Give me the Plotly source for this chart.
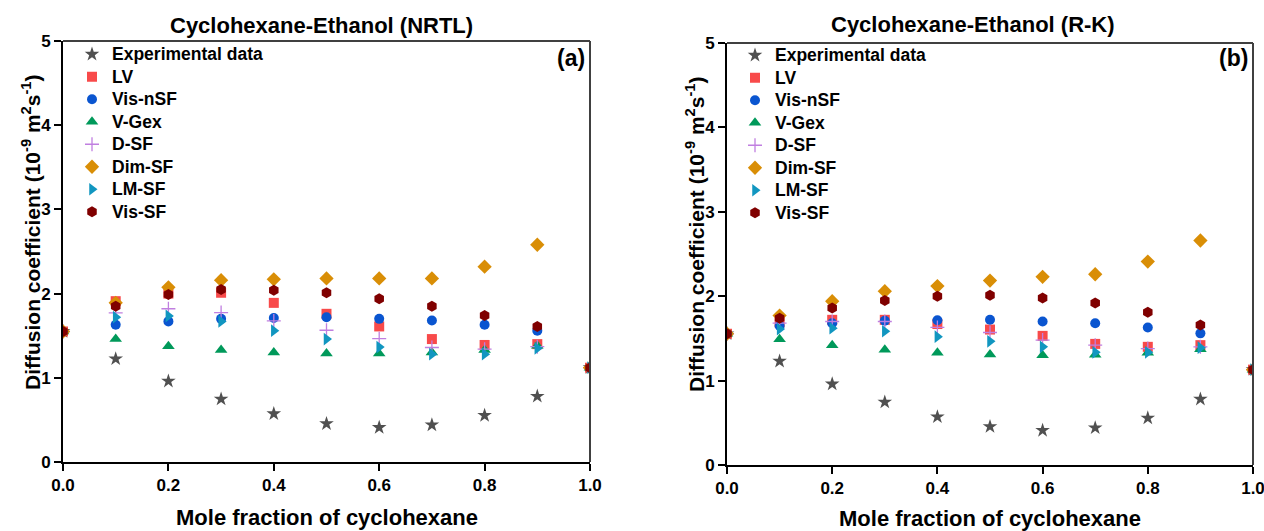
import plotly.graph_objects as go

x = [0.0, 0.1, 0.2, 0.3, 0.4, 0.5, 0.6, 0.7, 0.8, 0.9, 1.0]
series_names = ["Experimental data", "LV", "Vis-nSF", "V-Gex", "D-SF", "Dim-SF", "LM-SF", "Vis-SF"]

# Panel (a): NRTL
exp_a    = [1.55, 1.225, 0.96, 0.747, 0.573, 0.455, 0.41, 0.44, 0.553, 0.78, 1.12]
lv_a     = [1.55, 1.91, 2.00, 2.01, 1.89, 1.76, 1.61, 1.46, 1.39, 1.40, 1.12]
visnsf_a = [1.55, 1.63, 1.67, 1.70, 1.71, 1.72, 1.70, 1.68, 1.63, 1.56, 1.12]
vgex_a   = [1.55, 1.46, 1.375, 1.33, 1.30, 1.29, 1.29, 1.30, 1.33, 1.38, 1.12]
dsf_a    = [1.55, 1.77, 1.82, 1.775, 1.675, 1.565, 1.465, 1.36, 1.34, 1.37, 1.12]
dimsf_a  = [1.55, 1.89, 2.075, 2.16, 2.17, 2.18, 2.18, 2.18, 2.32, 2.58, 1.12]
lmsf_a   = [1.55, 1.72, 1.735, 1.67, 1.56, 1.46, 1.365, 1.28, 1.28, 1.35, 1.12]
vissf_a  = [1.55, 1.85, 1.99, 2.05, 2.04, 2.01, 1.94, 1.85, 1.74, 1.61, 1.12]

# Panel (b): R-K
exp_b    = [1.555, 1.23, 0.96, 0.745, 0.57, 0.455, 0.41, 0.44, 0.556, 0.78, 1.13]
lv_b     = [1.555, 1.69, 1.72, 1.72, 1.67, 1.605, 1.53, 1.435, 1.40, 1.42, 1.13]
visnsf_b = [1.555, 1.65, 1.68, 1.71, 1.715, 1.72, 1.70, 1.68, 1.63, 1.56, 1.13]
vgex_b   = [1.555, 1.49, 1.42, 1.365, 1.33, 1.31, 1.30, 1.305, 1.33, 1.37, 1.13]
dsf_b    = [1.555, 1.68, 1.70, 1.70, 1.63, 1.57, 1.48, 1.42, 1.38, 1.40, 1.13]
dimsf_b  = [1.555, 1.77, 1.94, 2.06, 2.12, 2.185, 2.23, 2.26, 2.41, 2.66, 1.13]
lmsf_b   = [1.555, 1.61, 1.62, 1.585, 1.52, 1.465, 1.40, 1.335, 1.335, 1.39, 1.13]
vissf_b  = [1.555, 1.74, 1.86, 1.95, 2.00, 2.01, 1.98, 1.92, 1.81, 1.66, 1.13]

x_ticks = [0.0, 0.2, 0.4, 0.6, 0.8, 1.0]
y_ticks = [0, 1, 2, 3, 4, 5]

titles = ["Cyclohexane-Ethanol (NRTL)", "Cyclohexane-Ethanol (R-K)"]
panel_labels = ["(a)", "(b)"]
ytitle = "Diffusion coefficient (10<sup>-9</sup> m<sup>2</sup>s<sup>-1</sup>)"
xtitle = "Mole fraction of cyclohexane"

symbols = ["star", "square", "circle", "triangle-up", "cross-thin", "diamond", "triangle-right", "hexagon"]
colors = ["#505050", "#F84A4A", "#0A55D0", "#00995A", "#C07FE0", "#D98E06", "#1196C0", "#800000"]
sizes = [11, 10, 10, 11, 10, 11, 11, 11]

data_a = [exp_a, lv_a, visnsf_a, vgex_a, dsf_a, dimsf_a, lmsf_a, vissf_a]
data_b = [exp_b, lv_b, visnsf_b, vgex_b, dsf_b, dimsf_b, lmsf_b, vissf_b]

W, H = 1264, 531
FONT = "Liberation Sans, Arial, sans-serif"

# pixel layout
px_a = (63, 590); py_a = (41, 462)
px_b = (727, 1253); py_b = (43, 465)

def xd(p):
    return [p[0] / W, p[1] / W]

def yd(p):
    return [(H - p[1]) / H, (H - p[0]) / H]

fig = go.Figure()
for dset, xa, ya, lg in [(data_a, "x", "y", "legend"), (data_b, "x2", "y2", "legend2")]:
    for i, name in enumerate(series_names):
        mk = dict(symbol=symbols[i], color=colors[i], size=sizes[i])
        if symbols[i] == "cross-thin":
            mk["line"] = dict(color=colors[i], width=1.3)
        else:
            mk["line"] = dict(width=0)
        fig.add_trace(go.Scatter(
            x=x, y=dset[i], mode="markers",
            name='<span style="font-size:17.5px">' + name + '</span>',
            marker=mk, xaxis=xa, yaxis=ya, legend=lg))

tickfont = dict(family=FONT, size=17, color="black", weight="bold")
axis_common = dict(showline=True, linecolor="black", linewidth=2, mirror=False,
                   ticks="outside", ticklen=7, tickwidth=2, tickcolor="black",
                   showgrid=False, zeroline=False, automargin=False, tickfont=tickfont,
                   ticklabeloverflow="allow")

legend_font = dict(family=FONT, size=15, color="black", weight="bold")

fig.update_layout(
    width=W, height=H,
    margin=dict(l=0, r=0, t=0, b=0),
    paper_bgcolor="white", plot_bgcolor="white",
    showlegend=True,
    xaxis=dict(domain=xd(px_a), range=[0, 1], tickvals=x_ticks, tickformat=".1f", anchor="y", **axis_common),
    yaxis=dict(domain=yd(py_a), range=[0, 5], tickvals=y_ticks, anchor="x", **axis_common),
    xaxis2=dict(domain=xd(px_b), range=[0, 1], tickvals=x_ticks, tickformat=".1f", anchor="y2", **axis_common),
    yaxis2=dict(domain=yd(py_b), range=[0, 5], tickvals=y_ticks, anchor="x2", **axis_common),
    legend=dict(x=72 / W, y=1 - 38 / H, xanchor="left", yanchor="top", bgcolor="rgba(0,0,0,0)",
                font=legend_font, itemwidth=30),
    legend2=dict(x=735 / W, y=1 - 39 / H, xanchor="left", yanchor="top", bgcolor="rgba(0,0,0,0)",
                 font=legend_font, itemwidth=30),
)

# top/right frame lines (grey) for each panel
for xr, yr in [("x domain", "y domain"), ("x2 domain", "y2 domain")]:
    fig.add_shape(type="line", xref=xr, yref=yr, x0=0, x1=1, y0=1, y1=1,
                  line=dict(color="#404040", width=2))
    fig.add_shape(type="line", xref=xr, yref=yr, x0=1, x1=1, y0=0, y1=1,
                  line=dict(color="#404040", width=2))

title_cx = [321, 973]
title_cy = [25, 24]
label_right = [587, 1250]
ytitle_cx = [31, 695]
ytitle_cy = [232, 234]
xtitle_cy = [517, 518]

for p, (pxs, pys) in enumerate([(px_a, py_a), (px_b, py_b)]):
    fig.add_annotation(text=titles[p], x=title_cx[p] / W, y=1 - title_cy[p] / H, xref="paper", yref="paper",
                       xanchor="center", yanchor="middle", showarrow=False,
                       font=dict(family=FONT, size=22, color="black", weight="bold"))
    fig.add_annotation(text=panel_labels[p], x=label_right[p] / W, y=1 - 58 / H, xref="paper", yref="paper",
                       xanchor="right", yanchor="middle", showarrow=False,
                       font=dict(family=FONT, size=23, color="black", weight="bold"))
    fig.add_annotation(text=ytitle, x=ytitle_cx[p] / W, y=1 - ytitle_cy[p] / H, xref="paper", yref="paper",
                       xanchor="center", yanchor="middle", textangle=-90, showarrow=False,
                       font=dict(family=FONT, size=21, color="black", weight="bold"))
    fig.add_annotation(text=xtitle, x=(pxs[0] + pxs[1]) / 2 / W, y=1 - xtitle_cy[p] / H, xref="paper", yref="paper",
                       xanchor="center", yanchor="middle", showarrow=False,
                       font=dict(family=FONT, size=22, color="black", weight="bold"))

fig.write_html("out.html", config={"displayModeBar": False},
               post_script="document.body.style.margin='0';document.body.style.padding='0';")
